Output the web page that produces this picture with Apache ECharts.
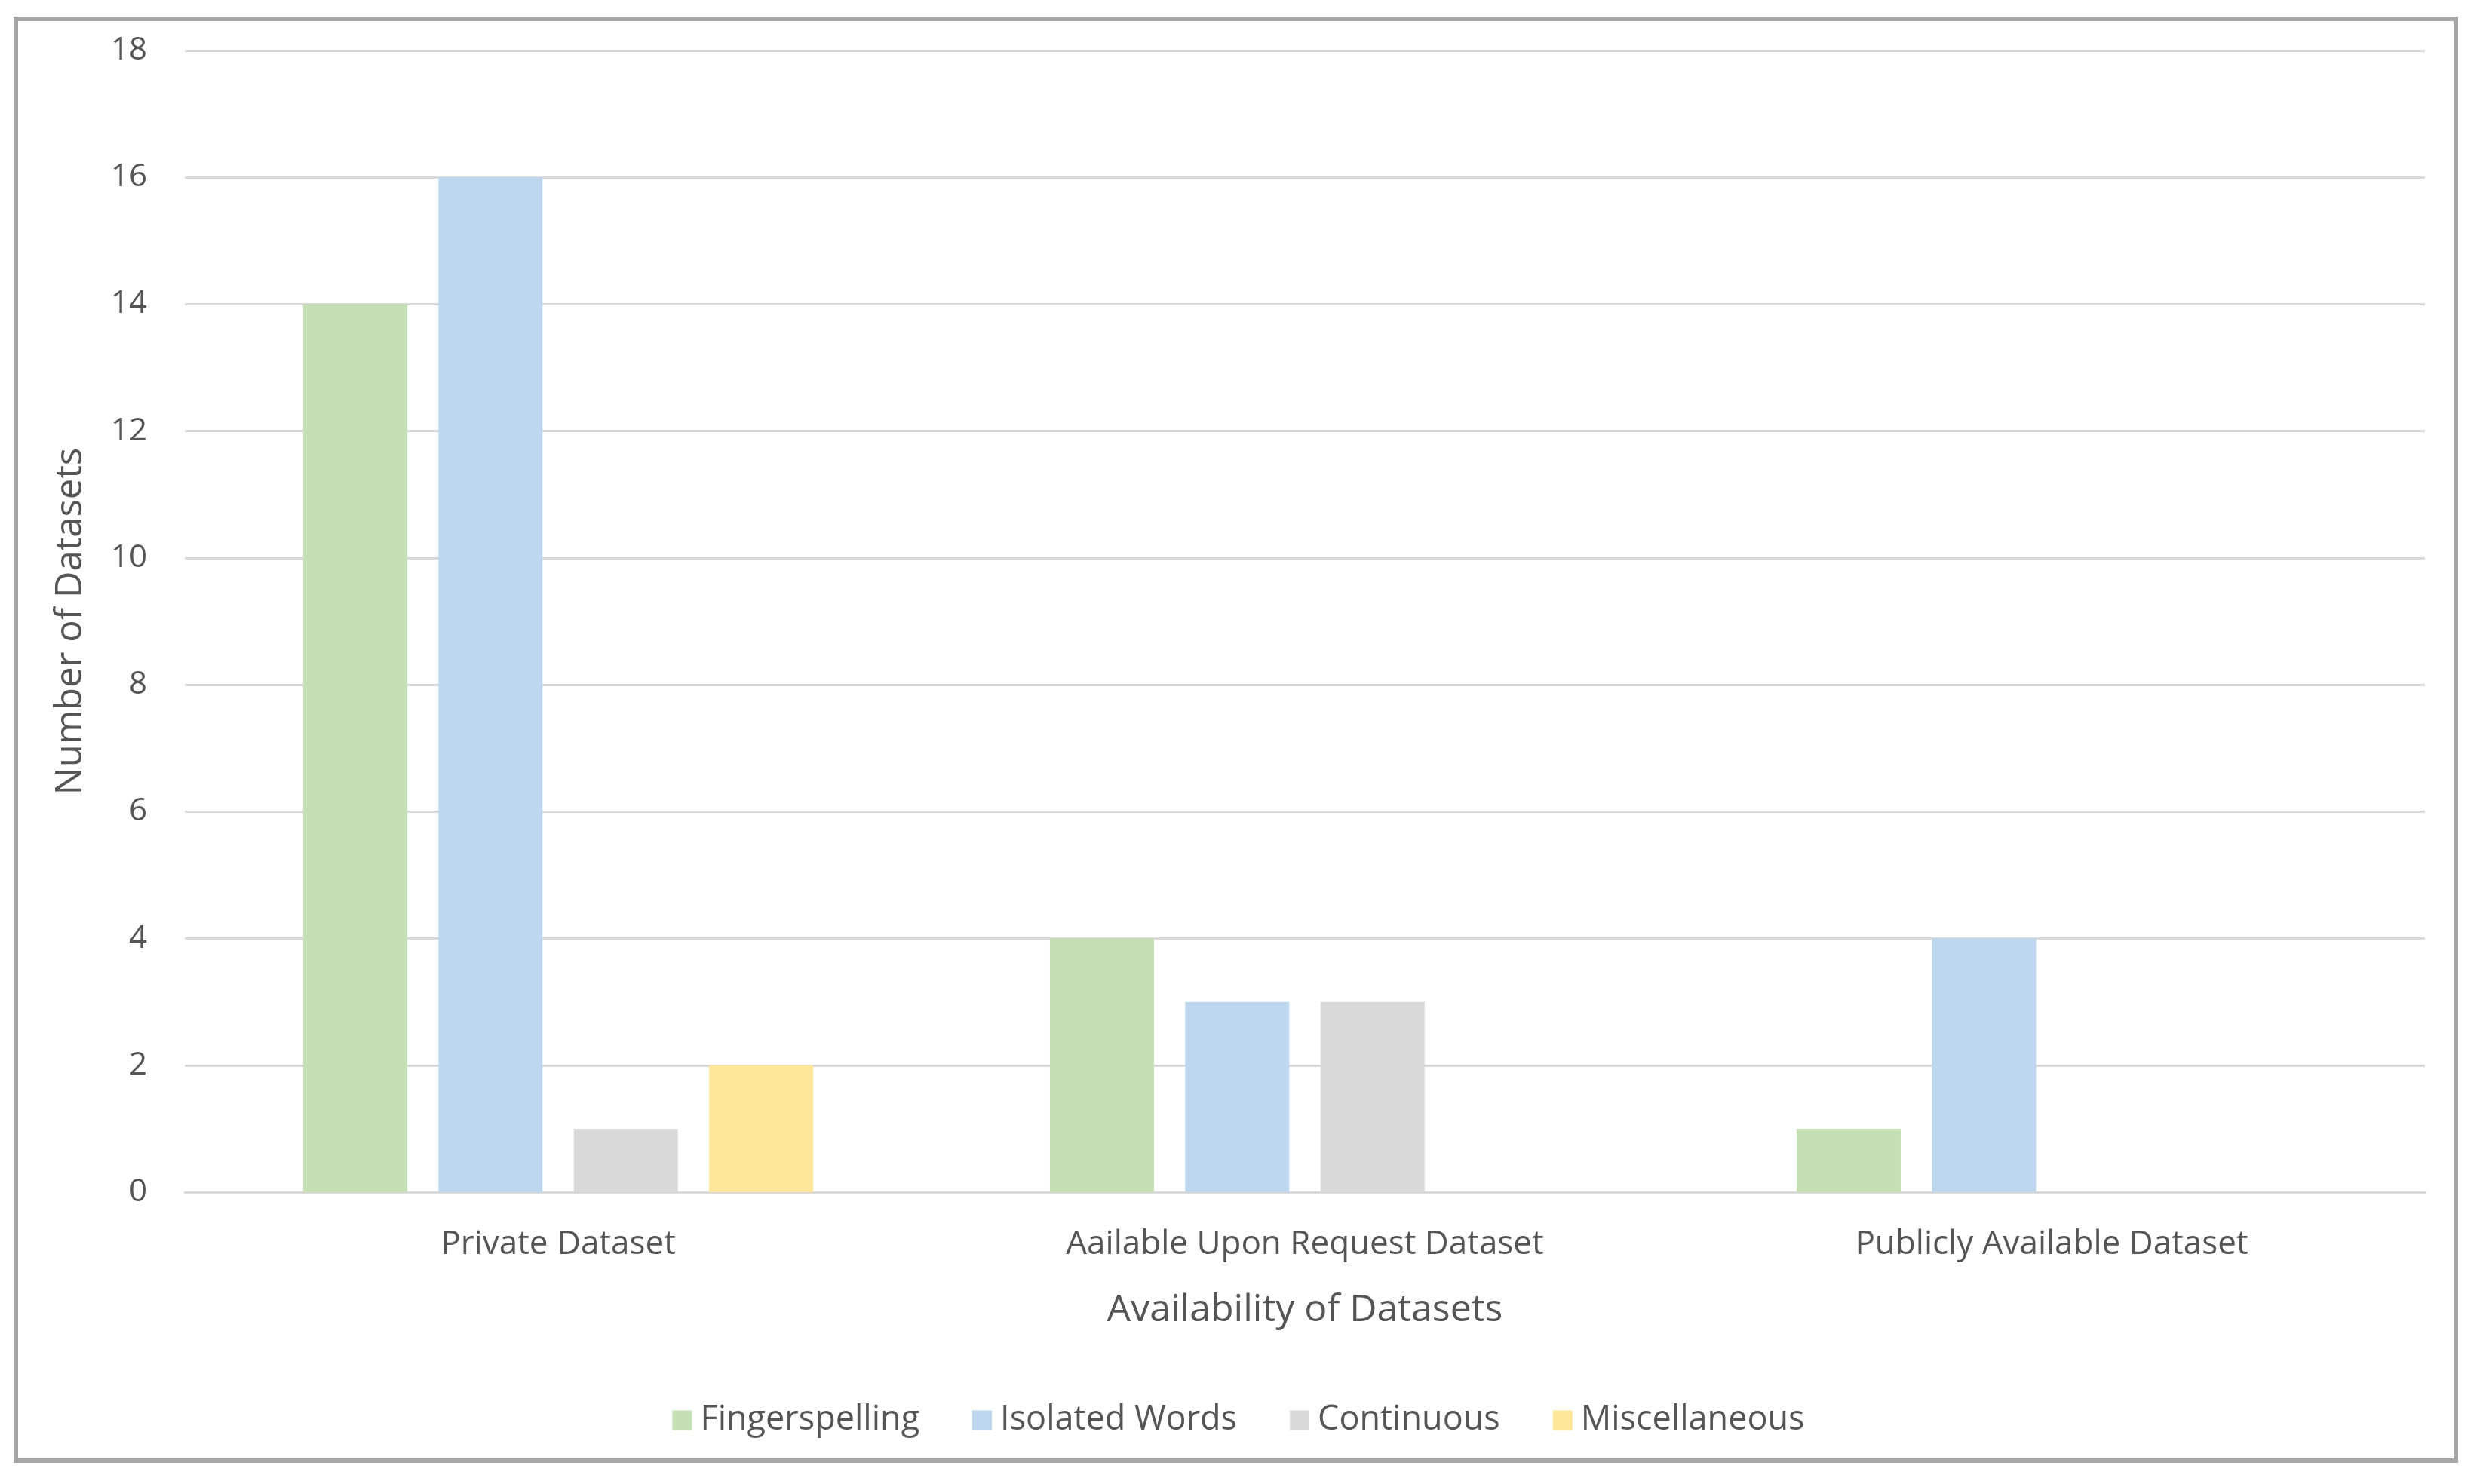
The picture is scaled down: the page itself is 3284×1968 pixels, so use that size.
<!DOCTYPE html>
<html>
<head>
<meta charset="utf-8">
<style>
html,body{margin:0;padding:0;background:#fff;}
#chart{width:3284px;height:1968px;}
</style>
<script src="https://cdn.jsdelivr.net/npm/echarts@6/dist/echarts.min.js"></script>
</head>
<body>
<div id="chart"></div>
<script>
const categories = ['Private Dataset', 'Aailable Upon Request Dataset', 'Publicly Available Dataset'];
const seriesNames = ['Fingerspelling', 'Isolated Words', 'Continuous', 'Miscellaneous'];
const fingerspelling = [14, 4, 1];
const isolatedWords = [16, 3, 4];
const continuous = [1, 3, 0];
const miscellaneous = [2, 0, 0];
const yTicks = [0, 2, 4, 6, 8, 10, 12, 14, 16, 18];

const colors = ['#c5e0b4', '#bdd7ee', '#d9d9d9', '#ffe699'];
const seriesData = [fingerspelling, isolatedWords, continuous, miscellaneous];
const font = 'Open Sans';
const textColor = '#555555';

const chart = echarts.init(document.getElementById('chart'));
chart.setOption({
  animation: false,
  backgroundColor: '#ffffff',
  textStyle: { fontFamily: font, color: textColor },
  graphic: [{
    type: 'rect',
    shape: { x: 21, y: 25, width: 3235, height: 1912 },
    style: { fill: 'none', stroke: '#a6a6a6', lineWidth: 6 },
    silent: true
  }],
  grid: { left: 245, right: 69, top: 67, bottom: 387, containLabel: false },
  legend: {
    data: seriesNames,
    bottom: 57,
    left: 'center',
    itemWidth: 26,
    itemHeight: 26,
    itemGap: 70,
    icon: 'rect',
    textStyle: { fontFamily: font, fontSize: 45, color: textColor, padding: [0, 0, 0, 6] }
  },
  xAxis: {
    type: 'category',
    data: categories,
    name: 'Availability of Datasets',
    nameLocation: 'middle',
    nameGap: 132,
    nameTextStyle: { fontFamily: font, fontSize: 50, color: textColor },
    axisLine: { show: true, lineStyle: { color: '#d9d9d9', width: 3 } },
    axisTick: { show: false },
    axisLabel: { fontFamily: font, fontSize: 44, color: textColor, margin: 47 }
  },
  yAxis: {
    type: 'value',
    min: yTicks[0],
    max: yTicks[yTicks.length - 1],
    interval: 2,
    name: 'Number of Datasets',
    nameLocation: 'middle',
    nameGap: 126,
    nameTextStyle: { fontFamily: font, fontSize: 49, color: textColor },
    axisLine: { show: false },
    axisTick: { show: false },
    splitLine: { lineStyle: { color: '#d9d9d9', width: 3 } },
    axisLabel: { fontFamily: font, fontSize: 42, color: textColor, margin: 50 }
  },
  series: seriesNames.map((name, i) => ({
    name: name,
    type: 'bar',
    data: seriesData[i],
    barWidth: 138,
    barGap: '30%',
    itemStyle: { color: colors[i] }
  }))
});
</script>
</body>
</html>
